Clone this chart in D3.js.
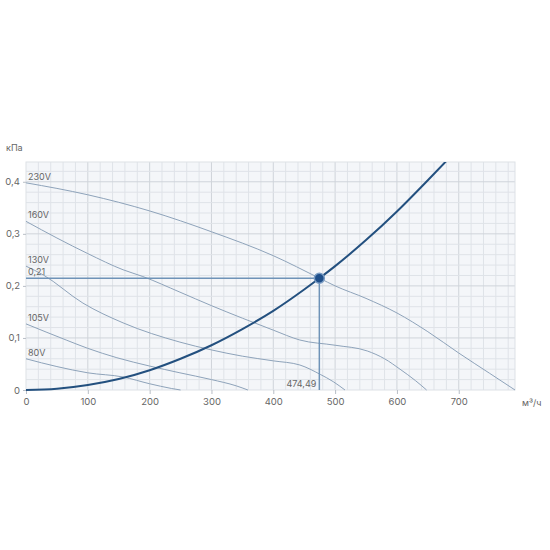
<!DOCTYPE html>
<html><head><meta charset="utf-8">
<script src="https://cdn.jsdelivr.net/npm/d3@7"></script>
<style>body{margin:0;background:#fff}svg{display:block}text{font-family:Inter,Roboto,"Noto Sans",sans-serif}</style>
</head><body><svg id="c" width="550" height="550"></svg>
<script>
// ---- data ----
const curveNames = ["230V", "160V", "130V", "105V", "80V"];
const flow230 = [0, 100, 200, 300, 400, 475, 500, 550, 600, 650, 700, 750, 791];
const pres230 = [0.398, 0.375, 0.344, 0.304, 0.258, 0.2146, 0.2, 0.176, 0.148, 0.112, 0.071, 0.032, 0];
const flow160 = [0, 50, 100, 157, 189, 249, 300, 350, 400, 443, 500, 552, 580, 605, 630, 648];
const pres160 = [0.324, 0.292, 0.262, 0.231, 0.218, 0.188, 0.162, 0.138, 0.115, 0.096, 0.086, 0.075, 0.06, 0.04, 0.018, 0];
const flow130 = [0, 28, 92, 157, 249, 300, 350, 400, 443, 476, 497, 516];
const pres130 = [0.238, 0.221, 0.167, 0.129, 0.092, 0.077, 0.065, 0.056, 0.048, 0.03, 0.016, 0];
const flow105 = [0, 65, 100, 147, 200, 249, 300, 340, 359];
const pres105 = [0.127, 0.096, 0.08, 0.062, 0.046, 0.033, 0.02, 0.008, 0];
const flow80 = [0, 50, 100, 157, 200, 235, 250];
const pres80 = [0.06, 0.045, 0.033, 0.025, 0.012, 0.003, 0];
const sysFlow = [0, 50, 100, 150, 200, 250, 300, 350, 400, 450, 474.49, 500, 550, 600, 650, 680];
const sysPres = [0, 0.0024, 0.0095, 0.021, 0.038, 0.06, 0.086, 0.117, 0.152, 0.193, 0.2146, 0.238, 0.288, 0.343, 0.403, 0.44];
const opFlow = 474.49, opPres = 0.2146;
const opFlowLabel = "474,49", opPresLabel = "0,21";
const xTicks = [0, 100, 200, 300, 400, 500, 600, 700];
const yTicks = [0, 0.1, 0.2, 0.3, 0.4];
const xUnit = "м³/ч", yUnit = "кПа";

const fans = [
  {name: curveNames[0], q: flow230, p: pres230},
  {name: curveNames[1], q: flow160, p: pres160},
  {name: curveNames[2], q: flow130, p: pres130},
  {name: curveNames[3], q: flow105, p: pres105},
  {name: curveNames[4], q: flow80, p: pres80}
];

// ---- chart ----
const svg = d3.select("#c");
const L = 26, R = 515, T = 162, B = 390;
const x = d3.scaleLinear().domain([0, 791]).range([L, R]);
const y = d3.scaleLinear().domain([0, 0.438]).range([B, T]);
const loc = d3.formatLocale({decimal: ",", thousands: " ", grouping: [3], currency: ["", ""]});
const fy = loc.format(".1~f");

svg.append("rect").attr("x", L).attr("y", T).attr("width", R - L).attr("height", B - T).attr("fill", "#f4f6f9");

const g = svg.append("g");
d3.range(20, 791, 20).forEach(v => {
  g.append("line").attr("x1", x(v)).attr("x2", x(v)).attr("y1", T).attr("y2", B)
    .attr("stroke", v % 100 === 0 ? "#cfd4da" : "#dfe3e8").attr("stroke-width", 1);
});
d3.range(0.02, 0.438, 0.02).forEach(v => {
  const major = Math.abs(v * 10 - Math.round(v * 10)) < 1e-6;
  g.append("line").attr("x1", L).attr("x2", R).attr("y1", y(v)).attr("y2", y(v))
    .attr("stroke", major ? "#cfd4da" : "#dfe3e8").attr("stroke-width", 1);
});
svg.append("rect").attr("x", L).attr("y", T).attr("width", R - L).attr("height", B - T)
  .attr("fill", "none").attr("stroke", "#dde1e6");

// axes
const xAxis = svg.append("g").attr("transform", `translate(0,${B})`)
  .call(d3.axisBottom(x).tickValues(xTicks).tickSize(4).tickPadding(4).tickFormat(d3.format("d")));
const yAxis = svg.append("g").attr("transform", `translate(${L},0)`)
  .call(d3.axisLeft(y).tickValues(yTicks).tickSize(3).tickPadding(3).tickFormat(d => d === 0 ? "0" : fy(d)));
[xAxis, yAxis].forEach(a => {
  a.select(".domain").remove();
  a.selectAll(".tick line").attr("stroke", "#b8bec6");
  a.selectAll("text").attr("fill", "#666").attr("font-size", 9.5);
});

svg.append("text").attr("x", 6).attr("y", 151).attr("font-size", 9).attr("fill", "#666").text(yUnit);
svg.append("text").attr("x", 522).attr("y", 406).attr("font-size", 9).attr("fill", "#666").text(xUnit);

// fan curves
const line = d3.line().x(d => x(d[0])).y(d => y(d[1])).curve(d3.curveMonotoneX);
fans.forEach(f => {
  const pts = f.q.map((q, i) => [q, f.p[i]]);
  svg.append("path").attr("d", line(pts)).attr("fill", "none").attr("stroke", "#8ea3ba").attr("stroke-width", 1);
  svg.append("text").attr("x", L + 2).attr("y", y(f.p[0]) - 3).attr("font-size", 9).attr("fill", "#666").text(f.name);
});

// operating point guide lines
svg.append("line").attr("x1", L).attr("x2", x(opFlow)).attr("y1", y(opPres)).attr("y2", y(opPres))
  .attr("stroke", "#6f93b8").attr("stroke-width", 1.5);
svg.append("line").attr("x1", x(opFlow)).attr("x2", x(opFlow)).attr("y1", y(opPres)).attr("y2", B)
  .attr("stroke", "#6f93b8").attr("stroke-width", 1.5);
svg.append("text").attr("x", L + 2).attr("y", y(opPres) - 3).attr("font-size", 9).attr("fill", "#666").text(opPresLabel);
svg.append("text").attr("x", x(opFlow) - 3).attr("y", B - 3).attr("text-anchor", "end").attr("font-size", 9).attr("fill", "#666").text(opFlowLabel);

// system curve
const sysPts = sysFlow.map((q, i) => [q, sysPres[i]]);
svg.append("clipPath").attr("id", "clp").append("rect").attr("x", L).attr("y", T).attr("width", R - L).attr("height", B - T + 2);
svg.append("path").attr("d", line(sysPts)).attr("fill", "none").attr("stroke", "#23507f").attr("stroke-width", 2).attr("clip-path", "url(#clp)");

// operating point
svg.append("circle").attr("cx", x(opFlow)).attr("cy", y(opPres)).attr("r", 5)
  .attr("fill", "#1f4f8a").attr("stroke", "#7a9cc4").attr("stroke-width", 1.5);
</script></body></html>
